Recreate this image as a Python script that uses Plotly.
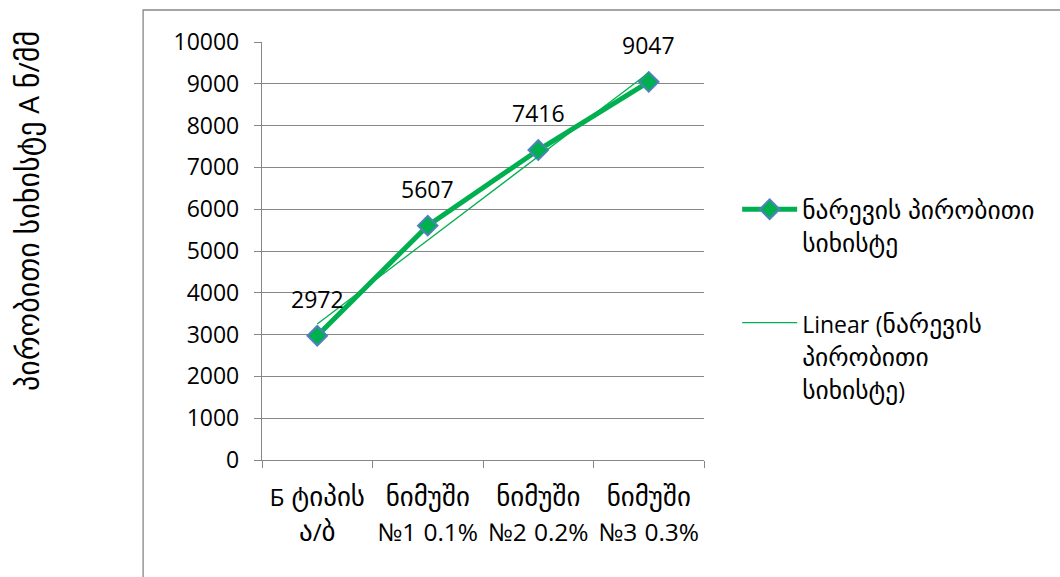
import re
import numpy as np
import plotly.graph_objects as go

categories = ["Б ტიპის\nა/ბ", "ნიმუში\n№1 0.1%", "ნიმუში\n№2 0.2%", "ნიმუში\n№3 0.3%"]
values = [2972, 5607, 7416, 9047]
series_name = "ნარევის პირობითი\nსიხისტე"
trend_name = "Linear (ნარევის\nპირობითი\nსიხისტე)"
y_title = "პირობითი სიხისტე A ნ/მმ"
y_ticks = list(range(0, 10001, 1000))

FONT = "Open Sans, DejaVu Sans, sans-serif"
GREEN = "#00B050"
GRID = "#878787"
GEO_SIZE = 27   # Georgian glyphs (fallback font renders small)
LAT_SIZE = 23   # Latin / digits


def fmt(text, small=LAT_SIZE):
    """Wrap non-Georgian runs in a smaller span, join lines with <br>."""
    out = []
    for line in text.split("\n"):
        out.append(re.sub(r"([^\u10A0-\u10FF\s]+)",
                          lambda m: f'<span style="font-size:{small}px">{m.group(1)}</span>', line))
    return "<br>".join(out)


tick_text = [fmt(c, 24.5) for c in categories]

idx = np.arange(1, len(values) + 1)
slope, intercept = np.polyfit(idx, values, 1)
trend = slope * idx + intercept

fig = go.Figure()
fig.add_trace(go.Scatter(
    x=list(range(len(values))), y=values, mode="lines+markers", name=fmt(series_name),
    legendgroup="a",
    line=dict(color=GREEN, width=5),
    marker=dict(symbol="diamond", size=15, color=GREEN, line=dict(color="#4F81BD", width=2)),
))
fig.add_trace(go.Scatter(
    x=list(range(len(values))), y=trend, mode="lines", name=fmt(trend_name),
    legendgroup="b",
    line=dict(color=GREEN, width=1.3),
))

for i, v in enumerate(values):
    fig.add_annotation(x=i, y=v, text=str(v), showarrow=False, yshift=37,
                       font=dict(family=FONT, size=LAT_SIZE, color="black"))

fig.add_annotation(xref="paper", yref="paper", x=-0.53, y=0.595, text=fmt(y_title, 28),
                   textangle=-90, showarrow=False, xanchor="center", yanchor="middle",
                   font=dict(family=FONT, size=30, color="black"))

# outer chart border
fig.add_shape(type="rect", xref="paper", yref="paper", x0=-0.269, y0=-0.31, x1=1.84, y1=1.0766,
              line=dict(color="#868686", width=1.3), layer="below")

fig.update_layout(
    width=1060, height=577,
    margin=dict(l=262, r=356, t=42, b=117),
    paper_bgcolor="white", plot_bgcolor="white",
    font=dict(family=FONT, size=LAT_SIZE, color="black"),
    showlegend=True,
    legend=dict(x=1.075, y=0.655, xanchor="left", yanchor="top", valign="top",
                font=dict(family=FONT, size=25.5, color="black"),
                tracegroupgap=44, itemwidth=55, bgcolor="rgba(0,0,0,0)"),
    xaxis=dict(range=[-0.5, 3.5], tickvals=list(range(len(values))), ticktext=tick_text,
               ticks="", showline=True, linecolor=GRID, linewidth=1.3,
               showgrid=False, zeroline=False, ticklabelstandoff=12,
               tickfont=dict(family=FONT, size=GEO_SIZE),
               minor=dict(tickvals=[i - 0.5 for i in range(len(values) + 1)],
                          ticks="outside", ticklen=7, tickcolor=GRID, showgrid=False)),
    yaxis=dict(range=[0, 10000], tickvals=y_ticks, ticktext=[str(t) for t in y_ticks],
               ticks="outside", ticklen=7,
               tickcolor=GRID, showline=True, linecolor=GRID, linewidth=1.3,
               showgrid=True, gridcolor=GRID, gridwidth=1.3, zeroline=False,
               ticklabelstandoff=10, tickfont=dict(family=FONT, size=LAT_SIZE)),
)

fig.write_html("out.html")
